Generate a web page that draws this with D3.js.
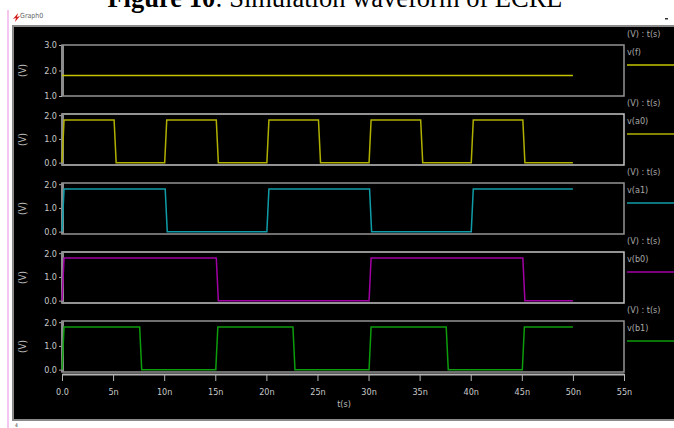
<!DOCTYPE html>
<html>
<head>
<meta charset="utf-8">
<script src="https://cdn.jsdelivr.net/npm/d3@7"></script>
<style>
  body { margin: 0; background: #fff; }
  svg { display: block; }
</style>
</head>
<body>
<figure id="waves" style="margin:0"></figure>
<script>
// time axis ticks (ns)
const xTicks = [0, 5, 10, 15, 20, 25, 30, 35, 40, 45, 50, 55];
const xTickLabels = ["0.0", "5n", "10n", "15n", "20n", "25n", "30n", "35n", "40n", "45n", "50n", "55n"];

// trace names and colours
const traceNames = ["v(f)", "v(a0)", "v(a1)", "v(b0)", "v(b1)"];
const traceColors = ["#c4c400", "#b0b000", "#109ca8", "#a000a4", "#0c9c0c"];

// y ticks per panel
const yTicksF = [1.0, 2.0, 3.0];
const yTicksSig = [0.0, 1.0, 2.0];

// waveforms: [time (ns), volts]
const vF = [[0, 1.8], [50, 1.8]];
const vA0 = [[0, 0], [0.2, 1.8], [5.1, 1.8], [5.3, 0], [10.05, 0], [10.25, 1.8], [15.1, 1.8], [15.3, 0],
  [20.05, 0], [20.25, 1.8], [25.1, 1.8], [25.3, 0], [30.05, 0], [30.25, 1.8], [35.1, 1.8], [35.3, 0],
  [40.05, 0], [40.25, 1.8], [45.1, 1.8], [45.3, 0], [50, 0]];
const vA1 = [[0, 0], [0.2, 1.8], [10.1, 1.8], [10.3, 0], [20.05, 0], [20.25, 1.8], [30.1, 1.8], [30.3, 0],
  [40.05, 0], [40.25, 1.8], [50, 1.8]];
const vB0 = [[0, 0], [0.2, 1.8], [15.1, 1.8], [15.3, 0], [30.05, 0], [30.25, 1.8], [45.1, 1.8], [45.3, 0], [50, 0]];
const vB1 = [[0, 0], [0.2, 1.8], [7.6, 1.8], [7.8, 0], [15.05, 0], [15.25, 1.8], [22.6, 1.8], [22.8, 0],
  [30.05, 0], [30.25, 1.8], [37.6, 1.8], [37.8, 0], [45.05, 0], [45.25, 1.8], [50, 1.8]];

const traces = [vF, vA0, vA1, vB0, vB1];

const width = 674, height = 428;
const plotLeft = 62, plotRight = 624;
const panelTop = 45, panelStep = 69, panelH = 51;
const smallFont = "'Liberation Sans Narrow', 'DejaVu Sans Condensed', Arial, sans-serif";

const svg = d3.select("figure#waves")
  .append("svg")
  .attr("width", width)
  .attr("height", height);

// page title, cut at top like the scan
const title = svg.append("text")
  .attr("x", 335)
  .attr("y", 7)
  .attr("text-anchor", "middle")
  .style("font-family", "'Liberation Serif', 'Times New Roman', serif")
  .style("font-size", "26.5px")
  .attr("fill", "#000");
title.append("tspan").style("font-weight", "bold").text("Figure 10");
title.append("tspan").text(": Simulation waveform of ECRL");

// window chrome
svg.append("rect").attr("x", 7).attr("y", 10).attr("width", 2).attr("height", height - 10).attr("fill", "#f4c6f0");
svg.append("path").attr("d", "M13,19 L18,13 L17,17 L20,16 L15,22 L16,18 Z").attr("fill", "#d42020");
svg.append("text")
  .attr("x", 20).attr("y", 18)
  .style("font-family", smallFont).style("font-size", "7px")
  .attr("fill", "#666")
  .text("Graph0");
svg.append("rect").attr("x", 665).attr("y", 18).attr("width", 3).attr("height", 1.5).attr("fill", "#333");

svg.append("rect")
  .attr("x", 13).attr("y", 26)
  .attr("width", width - 12).attr("height", 394)
  .attr("fill", "#000")
  .attr("stroke", "#8a8a8a")
  .attr("stroke-width", 2);
svg.append("text")
  .attr("x", 15).attr("y", 427)
  .style("font-family", smallFont).style("font-size", "5px")
  .attr("fill", "#444")
  .text("4");

const xScale = d3.scaleLinear()
  .domain([0, 55])
  .range([plotLeft, plotRight]);

traces.forEach((pts, i) => {
  const top = panelTop + i * panelStep;
  const bottom = top + panelH;
  const yScale = d3.scaleLinear()
    .domain(i === 0 ? [1, 3] : [-0.1, 2.05])
    .range([bottom, top]);
  const ticks = i === 0 ? yTicksF : yTicksSig;

  const g = svg.append("g");

  // frame
  g.append("rect")
    .attr("x", plotLeft).attr("y", top)
    .attr("width", plotRight - plotLeft).attr("height", panelH)
    .attr("fill", "none")
    .attr("stroke", (i % 2 === 1) ? "#c4c4c4" : "#949494")
    .attr("stroke-width", 1.5);

  // y axis
  const yAxis = g.append("g")
    .attr("transform", `translate(${plotLeft},0)`)
    .call(d3.axisLeft(yScale).tickValues(ticks).tickFormat(d3.format(".1f")).tickSize(3).tickPadding(2));
  yAxis.select(".domain").remove();
  yAxis.selectAll("line").attr("stroke", "#b0b0b0");
  yAxis.selectAll("text")
    .attr("fill", "#c8c8c8")
    .style("font-family", smallFont)
    .style("font-size", "9px");
  g.append("rect")
    .attr("x", plotLeft - 1).attr("y", top)
    .attr("width", 3).attr("height", panelH)
    .attr("fill", "#8c8c8c");

  // rotated unit label
  g.append("text")
    .attr("transform", `translate(26,${(top + bottom) / 2}) rotate(-90)`)
    .attr("text-anchor", "middle")
    .style("font-family", smallFont)
    .style("font-size", "10px")
    .attr("fill", "#b8b8b8")
    .text("(V)");

  // waveform
  const line = d3.line()
    .x(d => xScale(d[0]))
    .y(d => yScale(d[1]));
  g.append("path")
    .datum(pts)
    .attr("d", line)
    .attr("fill", "none")
    .attr("stroke", traceColors[i])
    .attr("stroke-width", 1.5);

  // right side legend
  g.append("text")
    .attr("x", 627).attr("y", top - 8)
    .style("font-family", smallFont).style("font-size", "9px")
    .attr("fill", "#a8a8a8")
    .text("(V) : t(s)");
  g.append("text")
    .attr("x", 627).attr("y", top + 10)
    .style("font-family", smallFont).style("font-size", "9px")
    .attr("fill", "#a8a8a8")
    .text(traceNames[i]);
  g.append("line")
    .attr("x1", 627).attr("x2", width)
    .attr("y1", top + 20).attr("y2", top + 20)
    .attr("stroke", traceColors[i])
    .attr("stroke-width", 1.5);
});

// time axis
const axisY = panelTop + 4 * panelStep + panelH + 2;
const xAxis = svg.append("g")
  .attr("transform", `translate(0,${axisY})`)
  .call(d3.axisBottom(xScale).tickValues(xTicks).tickFormat((d, i) => xTickLabels[i]).tickSize(7).tickSizeOuter(0).tickPadding(8));
xAxis.select(".domain").attr("stroke", "#b4b4b4").attr("stroke-width", 2);
xAxis.selectAll("line").attr("stroke", "#b4b4b4");
xAxis.selectAll("text")
  .attr("fill", "#c8c8c8")
  .style("font-family", smallFont)
  .style("font-size", "9px");

svg.append("text")
  .attr("x", 344).attr("y", 407)
  .attr("text-anchor", "middle")
  .style("font-family", smallFont).style("font-size", "9px")
  .attr("fill", "#b8b8b8")
  .text("t(s)");
</script>
</body>
</html>
